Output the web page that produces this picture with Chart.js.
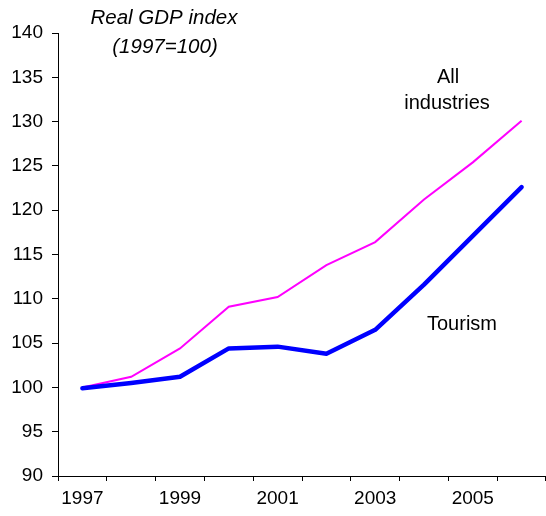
<!DOCTYPE html>
<html>
<head>
<meta charset="utf-8">
<script src="https://cdn.jsdelivr.net/npm/chart.js@4"></script>
<style>
  html, body { margin: 0; padding: 0; background: #fff; }
  #wrap { width: 546px; height: 516px; }
</style>
</head>
<body>
<div id="wrap"><canvas id="gdpChart" width="546" height="516"></canvas></div>
<script>
// Real GDP index, 1997 = 100
const years = ['1997', '1998', '1999', '2000', '2001', '2002', '2003', '2004', '2005', '2006'];
const allIndustries = [100, 101.2, 104.4, 109.1, 110.2, 113.8, 116.4, 121.2, 125.4, 130.1];
const tourism = [99.9, 100.5, 101.2, 104.4, 104.6, 103.8, 106.5, 111.6, 117.1, 122.6];
const yTicks = [90, 95, 100, 105, 110, 115, 120, 125, 130, 135, 140];

const FONT = '"Liberation Sans", Arial, sans-serif';

// free-floating text labels
const textLabels = {
  id: 'textLabels',
  afterDraw(chart) {
    const ctx = chart.ctx;
    ctx.save();
    ctx.fillStyle = '#000';
    ctx.textAlign = 'center';
    ctx.textBaseline = 'middle';
    ctx.font = 'italic 20.5px ' + FONT;
    ctx.fillText('Real GDP index', 164, 18);
    ctx.fillText('(1997=100)', 165, 47);
    ctx.font = '20px ' + FONT;
    ctx.fillText('All', 448, 77);
    ctx.fillText('industries', 447, 103);
    ctx.fillText('Tourism', 462, 324);
    ctx.restore();
  }
};

const ctx = document.getElementById('gdpChart').getContext('2d');
const gdpChart = new Chart(ctx, {
  type: 'line',
  data: {
    labels: years,
    datasets: [{
      label: 'Tourism',
      data: tourism,
      borderColor: '#0000FF',
      borderWidth: 4.5,
      borderCapStyle: 'round',
      borderJoinStyle: 'round',
      pointRadius: 0,
      tension: 0
    }, {
      label: 'All industries',
      data: allIndustries,
      borderColor: '#FF00FF',
      borderWidth: 2,
      pointRadius: 0,
      tension: 0
    }]
  },
  options: {
    responsive: false,
    animation: false,
    layout: { padding: { top: 33, right: 0, left: 0, bottom: 0 } },
    plugins: {
      legend: { display: false },
      tooltip: { enabled: false }
    },
    scales: {
      x: {
        offset: true,
        grid: {
          offset: true,
          drawOnChartArea: false,
          color: '#000',
          tickLength: 5
        },
        border: { color: '#000', width: 1 },
        ticks: {
          autoSkip: false,
          maxRotation: 0,
          color: '#000',
          padding: 6,
          font: { family: FONT, size: 19 },
          callback: (v, i) => (i % 2 === 0 ? years[i] : '')
        },
        afterFit: (scale) => { scale.height = 40; }
      },
      y: {
        min: 90,
        max: 140,
        afterBuildTicks: (scale) => { scale.ticks = yTicks.map(v => ({ value: v })); },
        grid: {
          drawOnChartArea: false,
          color: '#000',
          tickLength: 6
        },
        border: { color: '#000', width: 1 },
        ticks: {
          color: '#000',
          padding: 9,
          font: { family: FONT, size: 19 }
        },
        afterFit: (scale) => { scale.width = 58; }
      }
    }
  },
  plugins: [textLabels]
});
</script>
</body>
</html>
